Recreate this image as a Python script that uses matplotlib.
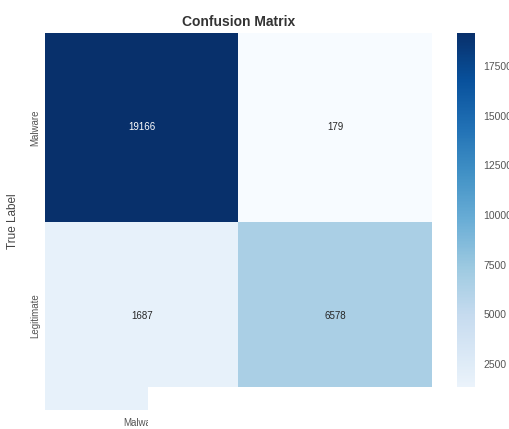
import numpy as np
import matplotlib
matplotlib.use("Agg")
import matplotlib.pyplot as plt
import seaborn as sns
from matplotlib.patches import Rectangle

# confusion matrix values
class_names = ["Malware", "Legitimate"]
cm_values = [[19166, 179],
             [1687, 6578]]
cbar_ticks = [2500, 5000, 7500, 10000, 12500, 15000, 17500]

sns.set_style("whitegrid")
plt.rcParams['font.family'] = ['Liberation Sans', 'DejaVu Sans']

fig = plt.figure(figsize=(5.09, 4.29), dpi=100)
ax = fig.add_axes([0.0884, 0.0443, 0.7603, 0.8787])
cax = fig.add_axes([0.898, 0.0443, 0.035, 0.8787])

cm = np.array(cm_values)
sns.heatmap(cm, annot=True, fmt="d", cmap="Blues", ax=ax, cbar_ax=cax,
            xticklabels=class_names, yticklabels=class_names,
            annot_kws={"fontsize": 7})

ax.set_title("Confusion Matrix", fontsize=10, fontweight="bold", color="#333333", pad=5)
ax.set_ylabel("True Label", fontsize=8.5, color="#444444", labelpad=8)
ax.tick_params(axis="both", labelsize=7, colors="#555555", length=0)
ax.tick_params(axis="x", pad=6)
for lbl in ax.get_yticklabels():
    lbl.set_rotation(90)
    lbl.set_va("center")

cax.set_yticks(cbar_ticks)
cax.tick_params(labelsize=7.5, colors="#555555", length=0, pad=6)
for s in cax.spines.values():
    s.set_visible(False)

# white patch covering the lower part of the screenshot
fig.patches.append(Rectangle((0.2908, 0.0), 1.0, 0.0979, transform=fig.transFigure,
                             facecolor="white", edgecolor="none", zorder=10))

fig.savefig("out.png", dpi=100)
